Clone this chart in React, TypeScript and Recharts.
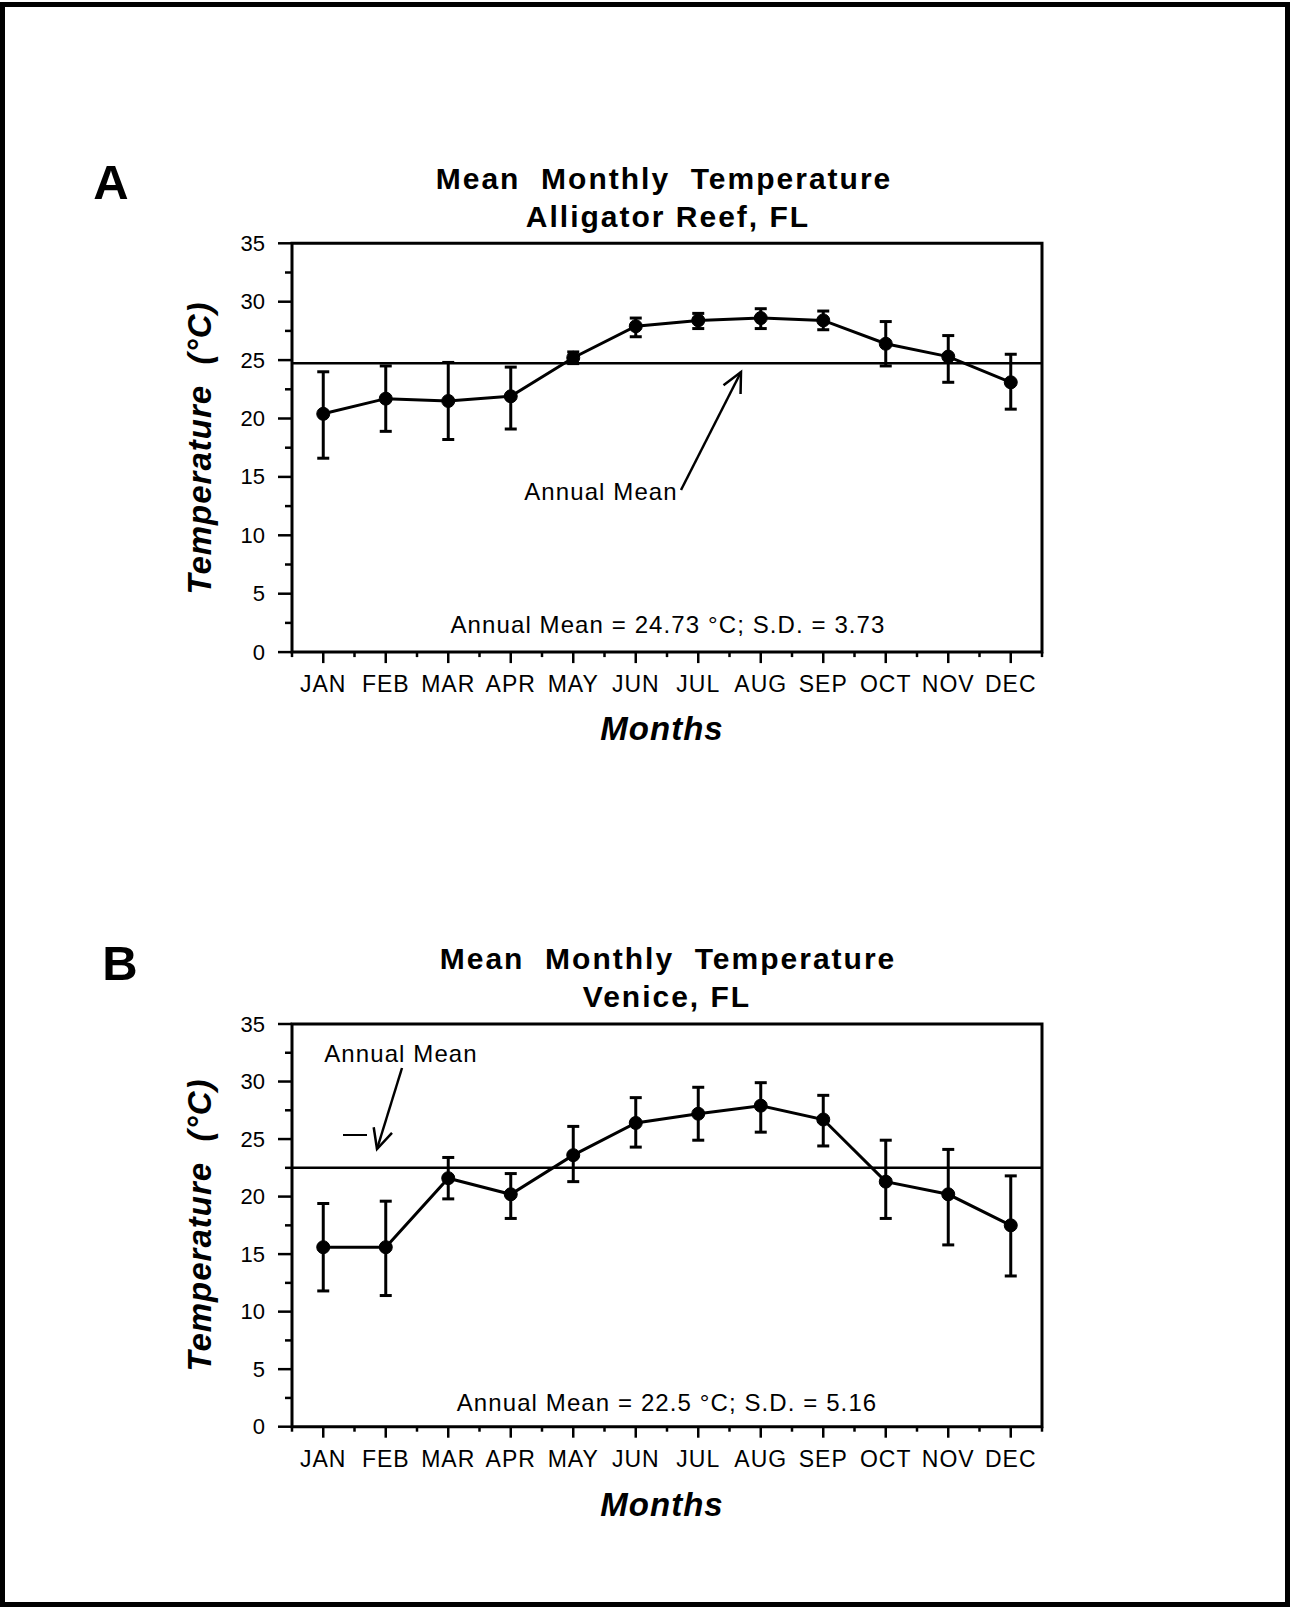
import React from 'react';
import { LineChart, Line, XAxis, YAxis, ErrorBar, ReferenceLine, ReferenceArea } from 'recharts';

const months = ['JAN', 'FEB', 'MAR', 'APR', 'MAY', 'JUN', 'JUL', 'AUG', 'SEP', 'OCT', 'NOV', 'DEC'];

// Alligator Reef, FL
const reefTemp = [20.4, 21.7, 21.5, 21.9, 25.2, 27.9, 28.4, 28.6, 28.4, 26.4, 25.3, 23.1];
const reefHigh = [24.0, 24.5, 24.8, 24.4, 25.7, 28.6, 29.0, 29.4, 29.2, 28.3, 27.1, 25.5];
const reefLow = [16.6, 18.9, 18.2, 19.1, 24.7, 27.0, 27.7, 27.7, 27.6, 24.5, 23.1, 20.8];
const reefMean = 24.73;

// Venice, FL
const veniceTemp = [15.6, 15.6, 21.6, 20.2, 23.6, 26.4, 27.2, 27.9, 26.7, 21.3, 20.2, 17.5];
const veniceHigh = [19.4, 19.6, 23.4, 22.0, 26.1, 28.6, 29.5, 29.9, 28.8, 24.9, 24.1, 21.8];
const veniceLow = [11.8, 11.4, 19.8, 18.1, 21.3, 24.3, 24.9, 25.6, 24.4, 18.1, 15.8, 13.1];
const veniceMean = 22.5;

const yTicks = [0, 2.5, 5, 7.5, 10, 12.5, 15, 17.5, 20, 22.5, 25, 27.5, 30, 32.5, 35];
const xTicks = months.flatMap((_, i) => [i, i + 0.5]).concat(months.length);

const FONT = '"Liberation Sans", Arial, Helvetica, sans-serif';

const buildRows = (temp: number[], low: number[], high: number[]) =>
  months.map((m, i) => ({
    x: i + 0.5,
    month: m,
    temp: temp[i],
    err: [+(temp[i] - low[i]).toFixed(2), +(high[i] - temp[i]).toFixed(2)],
  }));

const YTick = ({ x, y, payload }: any) => {
  const v = payload.value;
  const major = v % 5 === 0;
  return (
    <g>
      <line x1={x} x2={x - (major ? 14 : 7)} y1={y} y2={y} stroke="#000" strokeWidth={2.5} />
      {major && (
        <text x={x - 27} y={y} textAnchor="end" dominantBaseline="central" fontSize={22} fontFamily={FONT} fill="#000">
          {v}
        </text>
      )}
    </g>
  );
};

const XTick = ({ x, y, payload }: any) => {
  const v = payload.value;
  const isMonth = v % 1 !== 0;
  return (
    <g>
      <line x1={x} x2={x} y1={y} y2={y + (isMonth ? 11 : 5)} stroke="#000" strokeWidth={2.5} />
      {isMonth && (
        <text x={x} y={y + 32} textAnchor="middle" dominantBaseline="central" fontSize={23} letterSpacing={1}
          fontFamily={FONT} fill="#000">
          {months[Math.floor(v)]}
        </text>
      )}
    </g>
  );
};

interface PanelProps {
  top: number;
  height: number;
  plotTop: number;
  plotBottom: number;
  rows: any[];
  mean: number;
}

const PLOT_LEFT = 292;
const PLOT_RIGHT = 1042;
const PAGE_W = 1291;

const Panel: React.FC<PanelProps> = ({ top, height, plotTop, plotBottom, rows, mean }) => (
  <div style={{ position: 'absolute', left: 0, top }}>
    <LineChart
      width={PAGE_W}
      height={height}
      data={rows}
      margin={{ top: plotTop - top, right: PAGE_W - PLOT_RIGHT, left: PLOT_LEFT - 1, bottom: top + height - plotBottom - 1 }}
    >
      <XAxis dataKey="x" type="number" domain={[0, 12]} ticks={xTicks} interval={0} height={1}
        axisLine={false} tickLine={false} tickSize={0} tickMargin={0} tick={<XTick />} />
      <YAxis type="number" domain={[0, 35]} ticks={yTicks} interval={0} width={1}
        axisLine={false} tickLine={false} tickSize={0} tickMargin={0} tick={<YTick />} />
      <ReferenceArea x1={0} x2={12} y1={0} y2={35} fill="none" stroke="#000" strokeWidth={3} />
      <ReferenceLine y={mean} stroke="#000" strokeWidth={2.5} />
      <Line type="linear" dataKey="temp" stroke="#000" strokeWidth={3} isAnimationActive={false}
        dot={{ r: 6.5, fill: '#000', stroke: '#000', strokeWidth: 1 }}>
        <ErrorBar dataKey="err" direction="y" width={6} strokeWidth={3} stroke="#000" isAnimationActive={false} />
      </Line>
    </LineChart>
  </div>
);

const arrowHead = (x1: number, y1: number, x2: number, y2: number, len = 22, spread = 0.45) => {
  const a = Math.atan2(y1 - y2, x1 - x2);
  const p1 = [x2 + len * Math.cos(a - spread), y2 + len * Math.sin(a - spread)];
  const p2 = [x2 + len * Math.cos(a + spread), y2 + len * Math.sin(a + spread)];
  return `M${p1[0]},${p1[1]} L${x2},${y2} L${p2[0]},${p2[1]}`;
};

const App: React.FC = () => {
  const reefRows = buildRows(reefTemp, reefLow, reefHigh);
  const veniceRows = buildRows(veniceTemp, veniceLow, veniceHigh);

  const titleStyle = { fontFamily: FONT, fontWeight: 700, fontSize: 30, letterSpacing: 2, style: { whiteSpace: 'pre' } } as const;
  const axisTitle = { fontFamily: FONT, fontWeight: 700, fontStyle: 'italic', fontSize: 33, letterSpacing: 1, style: { whiteSpace: 'pre' } } as const;
  const note = { fontFamily: FONT, fontSize: 24, letterSpacing: 1.1 } as const;

  return (
    <div style={{ position: 'absolute', left: 0, top: 0, width: PAGE_W, height: 1607, background: '#fff' }}>
      <div style={{ position: 'absolute', left: 0, top: 2, width: 1290, height: 1605, border: '5px solid #000', boxSizing: 'border-box' }} />

      <Panel top={200} height={520} plotTop={243.3} plotBottom={652.1} rows={reefRows} mean={reefMean} />
      <Panel top={980} height={500} plotTop={1024} plotBottom={1426.7} rows={veniceRows} mean={veniceMean} />

      <svg width={PAGE_W} height={1607} style={{ position: 'absolute', left: 0, top: 0, pointerEvents: 'none' }}>
        {/* panel A */}
        <text x={111} y={199} textAnchor="middle" fontFamily={FONT} fontWeight={700} fontSize={49}>A</text>
        <text x={664} y={189} textAnchor="middle" {...titleStyle}>Mean  Monthly  Temperature</text>
        <text x={668} y={227} textAnchor="middle" {...titleStyle}>Alligator Reef, FL</text>
        <text x={662} y={740} textAnchor="middle" {...axisTitle}>Months</text>
        <text transform="translate(211,448) rotate(-90)" textAnchor="middle" {...axisTitle}>Temperature  (°C)</text>
        <text x={668} y={633} textAnchor="middle" {...note}>Annual Mean = 24.73 °C; S.D. = 3.73</text>
        <text x={601} y={500} textAnchor="middle" {...note}>Annual Mean</text>
        <path d="M681,490 L741,372" stroke="#000" strokeWidth={2.5} fill="none" />
        <path d={arrowHead(681, 490, 741, 372)} stroke="#000" strokeWidth={2.5} fill="none" />

        {/* panel B */}
        <text x={120} y={980} textAnchor="middle" fontFamily={FONT} fontWeight={700} fontSize={49}>B</text>
        <text x={668} y={969} textAnchor="middle" {...titleStyle}>Mean  Monthly  Temperature</text>
        <text x={667} y={1007} textAnchor="middle" {...titleStyle}>Venice, FL</text>
        <text x={662} y={1516} textAnchor="middle" {...axisTitle}>Months</text>
        <text transform="translate(211,1225) rotate(-90)" textAnchor="middle" {...axisTitle}>Temperature  (°C)</text>
        <text x={667} y={1411} textAnchor="middle" {...note}>Annual Mean = 22.5 °C; S.D. = 5.16</text>
        <text x={401} y={1062} textAnchor="middle" {...note}>Annual Mean</text>
        <path d="M402,1068 L377,1149" stroke="#000" strokeWidth={2.5} fill="none" />
        <path d={arrowHead(402, 1068, 377, 1149)} stroke="#000" strokeWidth={2.5} fill="none" />
        <path d="M343,1135 L367,1135" stroke="#000" strokeWidth={2} fill="none" />
      </svg>
    </div>
  );
};

export default App;
